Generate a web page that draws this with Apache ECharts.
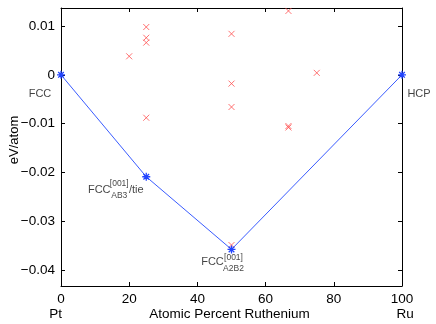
<!DOCTYPE html>
<html><head><meta charset="utf-8">
<script src="https://cdn.jsdelivr.net/npm/echarts@6/dist/echarts.min.js"></script>
<style>html,body{margin:0;padding:0;background:#fff}#c{width:436px;height:324px}</style>
</head><body><div id="c"></div>
<script>
// Data
const redPoints = [
  [20, 0.0038], [25, 0.0098], [25, 0.0076], [25, 0.0066], [25, -0.0088],
  [50, 0.0084], [50, -0.0018], [50, -0.0066], [50, -0.0349],
  [66.7, 0.0131], [66.7, -0.0105], [66.7, -0.0108], [75, 0.0004]
];
const hullX = [0, 25, 50, 100];
const hullY = [0, -0.0209, -0.0358, 0];
const xTicks = [0, 20, 40, 60, 80, 100];
const yTicks = [-0.04, -0.03, -0.02, -0.01, 0, 0.01];
const yMin = -0.0433, yMax = 0.0137;
const phaseNames = ['FCC', 'FCC', 'FCC', 'HCP'];
const supText = ['', '[001]', '[001]', ''];
const subText = ['', 'AB3', 'A2B2', ''];
const suffixText = ['', '/tie', '', ''];

const FONT = 'Liberation Sans, Arial, Helvetica, sans-serif';
const xPath = 'path://M0,0L10,10M10,0L0,10';
const starPath = 'path://M5,0L5,10M0,5L10,5M1.5,1.5L8.5,8.5M8.5,1.5L1.5,8.5';

// label placement offsets (pixels) per hull point
const mainOff = [[-21, 19], [-47, 13], [-19, 13], [17, 19]];
const supOff = [null, [-27, 7], [2, 8], null];
const subOff = [null, [-27, 19], [2, 19], null];
const sufOff = [null, [-10, 13], null, null];

function lbl(text, off, size) {
  return {
    show: true, formatter: text, position: off, align: 'center', verticalAlign: 'middle',
    color: '#111', fontSize: size, fontFamily: FONT
  };
}
const annData = [];
hullX.forEach((x, i) => {
  const v = [x, hullY[i]];
  annData.push({ value: v, label: lbl(phaseNames[i], mainOff[i], 11) });
  if (supText[i]) annData.push({ value: v, label: lbl(supText[i], supOff[i], 8.5) });
  if (subText[i]) annData.push({ value: v, label: lbl(subText[i], subOff[i], 8.5) });
  if (suffixText[i]) annData.push({ value: v, label: lbl(suffixText[i], sufOff[i], 11) });
});

const fmtY = v => {
  if (Math.abs(v) < 1e-9) return '0';
  return (v < 0 ? '\u2212' : '') + Math.abs(v).toFixed(2);
};
const axisCommon = {
  axisLine: { show: true, onZero: false, lineStyle: { color: '#000', width: 1 } },
  axisTick: { show: true, inside: true, length: 4, lineStyle: { color: '#000', width: 1 } },
  splitLine: { show: false }
};

const chart = echarts.init(document.getElementById('c'), null, { renderer: 'canvas' });
chart.setOption({
  animation: false,
  backgroundColor: '#fff',
  grid: { left: 61, right: 34, top: 8, bottom: 38, containLabel: false, outerBoundsMode: 'none' },
  xAxis: [
    Object.assign({}, axisCommon, {
      type: 'value', min: 0, max: 100, interval: 20, position: 'bottom',
      axisLabel: { show: true, margin: 6, color: '#000', fontSize: 13.5, fontFamily: FONT },
      name: '{p|Pt}{m|Atomic Percent Ruthenium}{r|Ru}',
      nameLocation: 'middle', nameGap: 21, nameMoveOverlap: false,
      nameTextStyle: {
        color: '#000', fontSize: 13.5, fontFamily: FONT,
        rich: {
          p: { width: 100, align: 'left', fontSize: 13.5, fontFamily: FONT, color: '#000' },
          m: { fontSize: 13.5, fontFamily: FONT, color: '#000' },
          r: { width: 104, align: 'right', fontSize: 13.5, fontFamily: FONT, color: '#000' }
        }
      }
    }),
    Object.assign({}, axisCommon, {
      type: 'value', min: 0, max: 100, interval: 20, position: 'top',
      axisLabel: { show: false }
    })
  ],
  yAxis: [
    Object.assign({}, axisCommon, {
      type: 'value', min: yMin, max: yMax, position: 'left',
      axisTick: Object.assign({}, axisCommon.axisTick, { customValues: yTicks }),
      axisLabel: { show: true, customValues: yTicks, formatter: fmtY, margin: 6, color: '#000', fontSize: 13.5, fontFamily: FONT },
      name: 'eV/atom', nameLocation: 'middle', nameGap: 40, nameRotate: 90, nameMoveOverlap: false,
      nameTextStyle: { color: '#000', fontSize: 13, fontFamily: FONT, padding: [0, 0, 0, 14] }
    }),
    Object.assign({}, axisCommon, {
      type: 'value', min: yMin, max: yMax, position: 'right',
      axisTick: Object.assign({}, axisCommon.axisTick, { customValues: yTicks }),
      axisLabel: { show: false }
    })
  ],
  series: [
    {
      type: 'scatter', xAxisIndex: 0, yAxisIndex: 0, data: redPoints,
      symbol: xPath, symbolSize: 6,
      itemStyle: { color: 'none', borderColor: '#ff5050', borderWidth: 1 }, z: 3
    },
    {
      type: 'line', xAxisIndex: 0, yAxisIndex: 0,
      data: hullX.map((x, i) => [x, hullY[i]]),
      symbol: starPath, symbolSize: 8, showSymbol: true,
      lineStyle: { color: '#3a5cff', width: 1 },
      itemStyle: { color: 'none', borderColor: '#2244ff', borderWidth: 1.3 }, z: 4
    },
    {
      type: 'scatter', xAxisIndex: 0, yAxisIndex: 0, data: annData,
      symbol: 'circle', symbolSize: 0, silent: true, z: 5
    }
  ]
});
</script></body></html>
